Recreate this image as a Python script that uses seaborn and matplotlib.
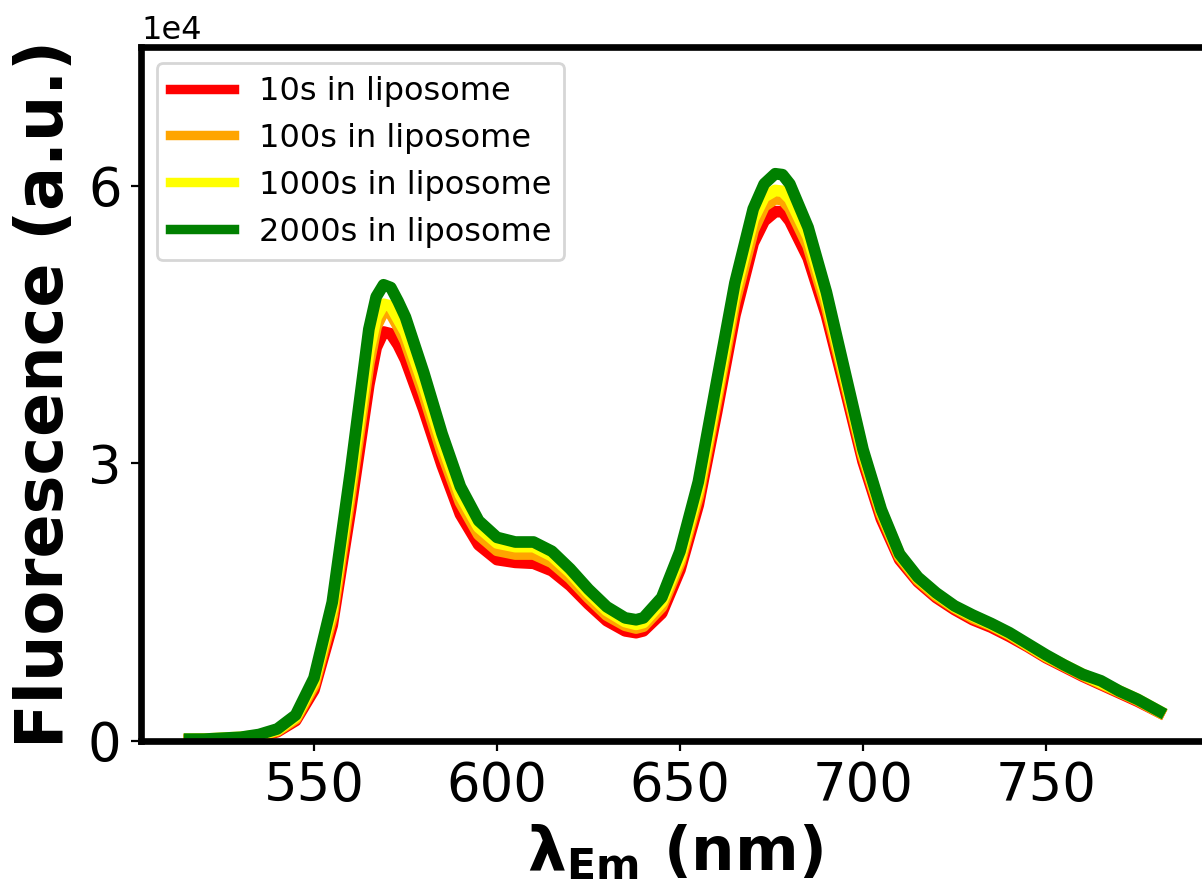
import numpy as np
import pandas as pd
import matplotlib
matplotlib.use("Agg")
import matplotlib.pyplot as plt
import seaborn as sns

# Emission wavelengths (nm)
wavelength = [516, 520, 525, 530, 535, 540, 545, 550, 555, 560, 565, 567, 569, 571,
              573, 575, 580, 585, 590, 595, 600, 605, 610, 615, 620, 625, 630, 635,
              638, 640, 645, 650, 655, 660, 665, 670, 673, 676, 678, 680, 685, 690,
              695, 700, 705, 710, 715, 720, 725, 730, 735, 740, 745, 750, 755, 760,
              765, 770, 775, 781]

# Fluorescence intensities in units of 1e4 a.u.
f_10s = [0.01, 0.01, 0.02, 0.03, 0.05, 0.10, 0.22, 0.55, 1.25, 2.50, 3.85, 4.25, 4.42, 4.40,
         4.28, 4.12, 3.58, 2.98, 2.45, 2.12, 1.96, 1.93, 1.92, 1.84, 1.68, 1.48, 1.30, 1.19,
         1.17, 1.19, 1.38, 1.85, 2.55, 3.55, 4.60, 5.38, 5.62, 5.72, 5.72, 5.62, 5.22, 4.60,
         3.82, 3.02, 2.40, 1.96, 1.72, 1.55, 1.42, 1.31, 1.23, 1.13, 1.02, 0.90, 0.80, 0.70,
         0.61, 0.52, 0.43, 0.31]
f_100s = [0.01, 0.02, 0.02, 0.03, 0.06, 0.11, 0.24, 0.60, 1.35, 2.68, 4.08, 4.48, 4.64, 4.62,
          4.48, 4.32, 3.75, 3.12, 2.58, 2.23, 2.06, 2.02, 2.02, 1.93, 1.76, 1.55, 1.36, 1.25,
          1.22, 1.24, 1.45, 1.93, 2.65, 3.68, 4.75, 5.52, 5.78, 5.86, 5.85, 5.76, 5.35, 4.70,
          3.90, 3.08, 2.45, 1.99, 1.74, 1.57, 1.44, 1.33, 1.25, 1.15, 1.03, 0.91, 0.81, 0.71,
          0.62, 0.53, 0.44, 0.31]
f_1000s = [0.02, 0.02, 0.03, 0.04, 0.06, 0.12, 0.26, 0.64, 1.43, 2.80, 4.22, 4.58, 4.72, 4.70,
           4.56, 4.42, 3.85, 3.22, 2.66, 2.31, 2.14, 2.10, 2.10, 2.00, 1.82, 1.60, 1.41, 1.29,
           1.26, 1.28, 1.50, 1.98, 2.72, 3.76, 4.85, 5.64, 5.88, 5.95, 5.94, 5.86, 5.45, 4.78,
           3.95, 3.12, 2.48, 2.01, 1.76, 1.59, 1.45, 1.35, 1.26, 1.16, 1.04, 0.92, 0.82, 0.72,
           0.63, 0.54, 0.45, 0.32]
f_2000s = [0.02, 0.02, 0.03, 0.04, 0.07, 0.13, 0.28, 0.68, 1.50, 2.92, 4.45, 4.80, 4.93, 4.90,
           4.75, 4.58, 3.98, 3.32, 2.75, 2.38, 2.20, 2.15, 2.15, 2.05, 1.86, 1.64, 1.45, 1.33,
           1.31, 1.33, 1.55, 2.05, 2.80, 3.88, 4.95, 5.75, 6.02, 6.13, 6.12, 6.02, 5.55, 4.85,
           4.00, 3.15, 2.50, 2.02, 1.77, 1.60, 1.46, 1.36, 1.27, 1.17, 1.05, 0.93, 0.82, 0.72,
           0.65, 0.54, 0.45, 0.32]

labels = ["10s in liposome", "100s in liposome", "1000s in liposome", "2000s in liposome"]
colors = ["red", "orange", "yellow", "green"]
series = [f_10s, f_100s, f_1000s, f_2000s]

frames = []
for lab, vals in zip(labels, series):
    frames.append(pd.DataFrame({
        "wavelength": wavelength,
        "fluorescence": np.asarray(vals) * 1e4,
        "sample": lab,
    }))
df = pd.concat(frames, ignore_index=True)

fig = plt.figure(figsize=(6.01, 4.43), dpi=200)
ax = fig.add_axes([0.1173, 0.1637, 0.8877, 0.7833])

sns.lineplot(data=df, x="wavelength", y="fluorescence", hue="sample",
             hue_order=labels, palette=colors, linewidth=4.2,
             estimator=None, ax=ax)

ax.set_ylim(0, 75000)
ax.set_yticks([0, 30000, 60000])
ax.set_xticks([550, 600, 650, 700, 750])
ax.ticklabel_format(axis="y", style="sci", scilimits=(0, 0))
ax.yaxis.get_offset_text().set_fontsize(11.5)

ax.tick_params(axis="both", labelsize=19, length=3.5, width=0.8)
for sp in ax.spines.values():
    sp.set_linewidth(2.4)
    sp.set_color("black")

ax.set_ylabel("Fluorescence (a.u.)", fontsize=23.5, fontweight="bold")
ax.set_xlabel("λ$_\\mathbf{Em}$ (nm)", fontsize=22, fontweight="bold")

old = ax.get_legend()
handles = old.legend_handles
leg = ax.legend(handles=handles, labels=labels, loc="upper left",
                fontsize=11.5, handlelength=2.0)
for h in leg.legend_handles:
    h.set_linewidth(3.4)

fig.savefig("out.png", dpi=200)
